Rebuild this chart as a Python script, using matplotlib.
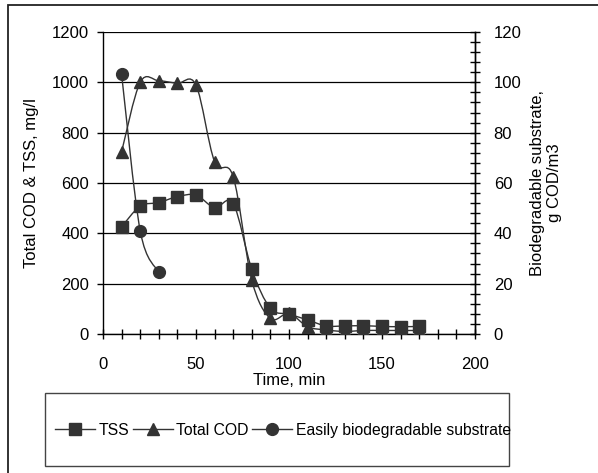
import matplotlib
matplotlib.use("Agg")
import matplotlib.pyplot as plt
from matplotlib.path import Path
from matplotlib.patches import PathPatch, Rectangle
from matplotlib.lines import Line2D
from matplotlib.ticker import MultipleLocator

plt.rcParams["font.family"] = ["Liberation Sans", "DejaVu Sans"]
plt.rcParams["font.size"] = 12

# Datos
tiempo = [10, 20, 30, 40, 50, 60, 70, 80, 90, 100, 110, 120, 130, 140, 150, 160, 170]
tss = [426, 508, 522, 546, 552, 502, 518, 257, 102, 79, 56, 32, 32, 33, 30, 29, 30]
cod_total = [724, 1000, 1006, 996, 989, 685, 625, 214, 62, 82, 29, 16, 10, 14, 14, 14, 14]
tiempo_sub = [10, 20, 30]
sustrato = [103.2, 41.0, 24.5]

color = "#333333"


def curva_suave(x, y):
    # curva tipo Excel (Bezier) pasando por los puntos
    pts = list(zip(x, y))
    verts = [pts[0]]
    codes = [Path.MOVETO]
    n = len(pts)
    for i in range(n - 1):
        p0 = pts[i - 1] if i > 0 else pts[i]
        p1 = pts[i]
        p2 = pts[i + 1]
        p3 = pts[i + 2] if i + 2 < n else pts[i + 1]
        c1 = (p1[0] + (p2[0] - p0[0]) / 6, p1[1] + (p2[1] - p0[1]) / 6)
        c2 = (p2[0] - (p3[0] - p1[0]) / 6, p2[1] - (p3[1] - p1[1]) / 6)
        verts += [c1, c2, p2]
        codes += [Path.CURVE4] * 3
    return Path(verts, codes)


fig = plt.figure(figsize=(5.98, 4.73), dpi=100)
ax = fig.add_axes([103 / 598, 1 - 334 / 473, 372 / 598, 302 / 473])
ax2 = ax.twinx()

for a, x, y in [(ax, tiempo, tss), (ax, tiempo, cod_total), (ax2, tiempo_sub, sustrato)]:
    a.add_patch(PathPatch(curva_suave(x, y), facecolor="none", edgecolor=color,
                          linewidth=1.0, transform=a.transData, zorder=3))

ax.plot(tiempo, tss, ls="none", marker="s", ms=8.5, color=color, zorder=4)
ax.plot(tiempo, cod_total, ls="none", marker="^", ms=9, color=color, zorder=4)
ax2.plot(tiempo_sub, sustrato, ls="none", marker="o", ms=8.5, color=color, zorder=4)

ax.set_xlim(0, 200)
ax.set_ylim(0, 1200)
ax2.set_ylim(0, 120)

ax.xaxis.set_major_locator(MultipleLocator(50))
ax.xaxis.set_minor_locator(MultipleLocator(10))
ax.yaxis.set_major_locator(MultipleLocator(200))
ax2.yaxis.set_major_locator(MultipleLocator(20))
ax2.yaxis.set_minor_locator(MultipleLocator(4))

ax.grid(axis="y", color="black", linewidth=0.9)
ax.set_axisbelow(True)

for a in (ax, ax2):
    a.spines["top"].set_visible(False)
    for s in ("left", "right", "bottom"):
        a.spines[s].set_color("black")
        a.spines[s].set_linewidth(1.0)
ax2.spines["left"].set_visible(False)
ax2.spines["bottom"].set_visible(False)

ax.tick_params(axis="y", which="major", direction="out", length=4, width=1, pad=6)
ax.tick_params(axis="x", which="both", direction="inout", length=7, width=1, pad=13)
ax2.tick_params(axis="y", which="both", direction="inout", length=7, width=1, pad=10)

ax.set_xlabel("Time, min", labelpad=1)
ax.set_ylabel("Total COD & TSS, mg/l", labelpad=9)
ax2.set_ylabel("Biodegradable substrate,\ng COD/m3", labelpad=6)

# marco exterior del grafico
fig.patches.append(Rectangle((8 / 598, -0.1), 1.2, 1.1 - 5 / 473, transform=fig.transFigure,
                             fill=False, edgecolor="#222222", linewidth=1.3))

# caja de la leyenda
fig.patches.append(Rectangle((45 / 598, 1 - 466 / 473), 464 / 598, 73 / 473,
                             transform=fig.transFigure, fill=False, edgecolor="#444444",
                             linewidth=1.0))

handles = [
    Line2D([], [], color=color, lw=1, marker="s", ms=8.5),
    Line2D([], [], color=color, lw=1, marker="^", ms=9),
    Line2D([], [], color=color, lw=1, marker="o", ms=8.5),
]
fig.legend(handles, ["TSS", "Total COD", "Easily biodegradable substrate"],
           loc="center", bbox_to_anchor=(283 / 598, 1 - 430 / 473), ncol=3,
           frameon=False, handlelength=2.55, handletextpad=0.25, columnspacing=0.2,
           borderpad=0.0, fontsize=11.3)

plt.savefig("out.png", dpi=100)
plt.close()
